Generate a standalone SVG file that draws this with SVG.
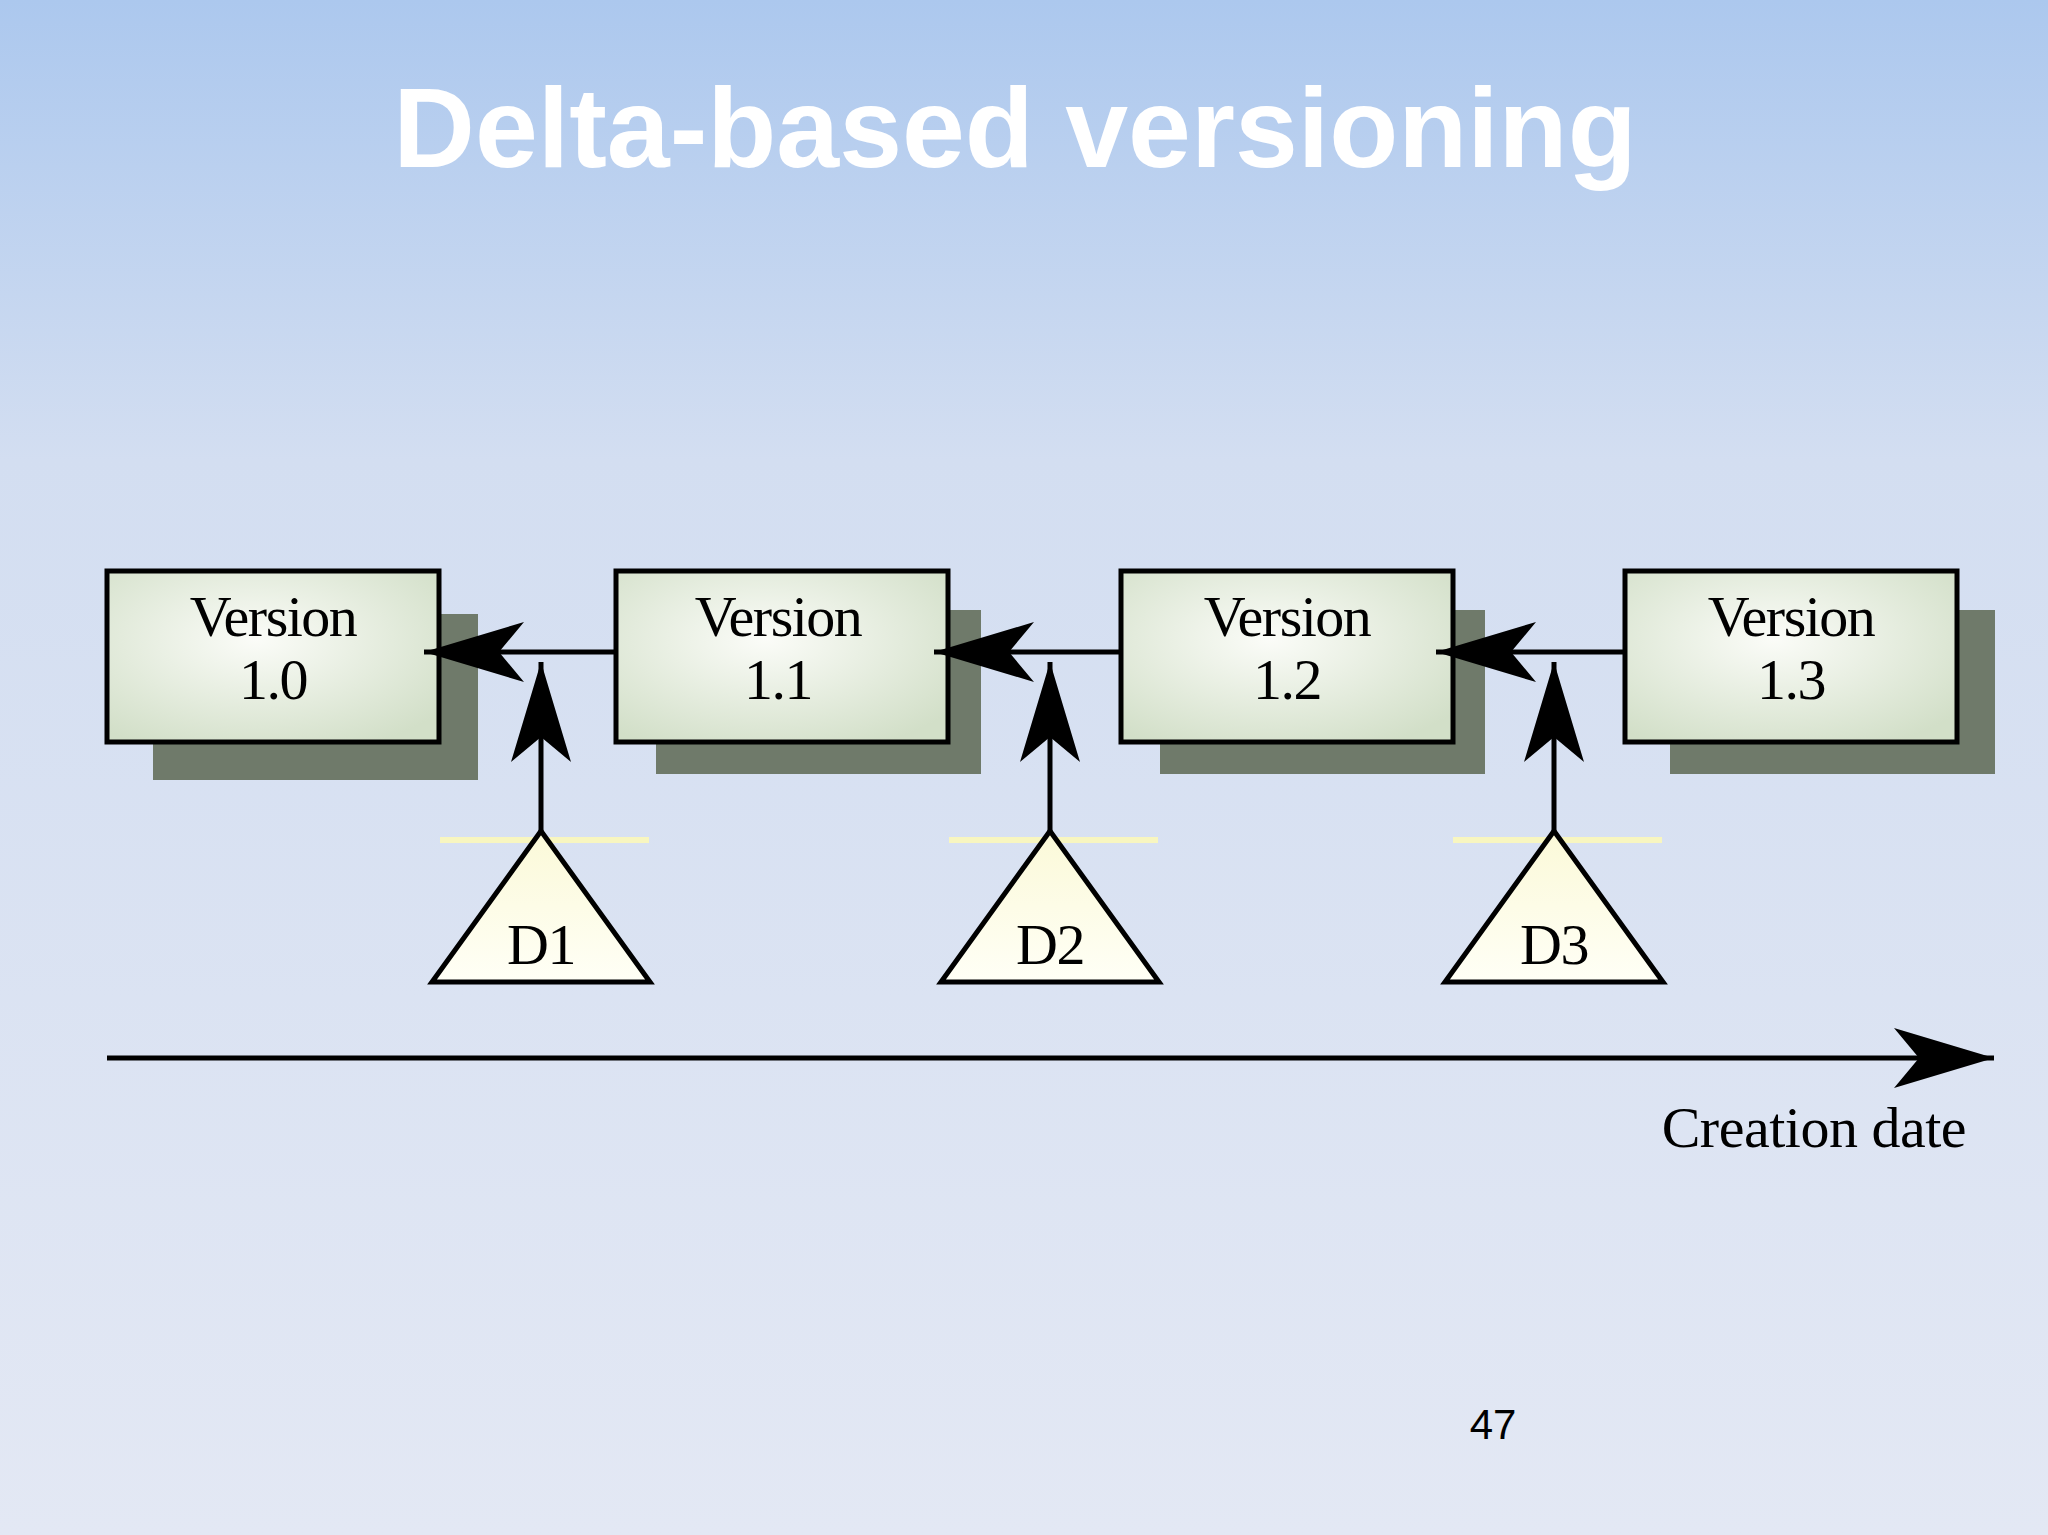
<svg xmlns="http://www.w3.org/2000/svg" width="2048" height="1535" viewBox="0 0 2048 1535">
<defs>
<linearGradient id="bg" x1="0" y1="0" x2="0" y2="1">
<stop offset="0" stop-color="#acc8ee"/><stop offset="0.3" stop-color="#d3def1"/><stop offset="1" stop-color="#e3e8f4"/>
</linearGradient>
<radialGradient id="bx" cx="0.45" cy="0.4" r="0.7">
<stop offset="0" stop-color="#fbfcf8"/><stop offset="1" stop-color="#d2dfc8"/>
</radialGradient>
<linearGradient id="tr" x1="0" y1="0" x2="0" y2="1">
<stop offset="0" stop-color="#fbf9d8"/><stop offset="1" stop-color="#fffff6"/>
</linearGradient>
<marker id="ah" viewBox="0 0 100 60" refX="100" refY="30" markerWidth="100" markerHeight="60" markerUnits="userSpaceOnUse" orient="auto">
<path d="M0,0 L100,30 L0,60 L25,30 Z" fill="#000"/>
</marker>
<style>
.sh{fill:#6f7a6a}
.bx{fill:url(#bx);stroke:#000;stroke-width:5}
.t{font-family:"Liberation Serif",serif;font-size:58px;text-anchor:middle;fill:#000;letter-spacing:-1.5px}
.ln{stroke:#000;stroke-width:5;fill:none;marker-end:url(#ah)}
.tri{fill:url(#tr);stroke:#000;stroke-width:5}
.yl{stroke:#f8f6c0;stroke-width:6}
</style>
</defs>
<rect width="2048" height="1535" fill="url(#bg)"/>
<text x="1015" y="167" font-family="Liberation Sans,Arial,sans-serif" font-weight="bold" font-size="113" fill="#fff" text-anchor="middle">Delta-based versioning</text>
<g id="v10"><rect class="sh" x="153" y="614" width="325" height="166"/><rect class="bx" x="107" y="571" width="332" height="171"/><text class="t" x="273" y="636">Version</text><text class="t" x="273" y="699">1.0</text></g>
<g id="v11"><rect class="sh" x="656" y="610" width="325" height="164"/><rect class="bx" x="616" y="571" width="332" height="171"/><text class="t" x="778" y="636">Version</text><text class="t" x="778" y="699">1.1</text></g>
<g id="v12"><rect class="sh" x="1160" y="610" width="325" height="164"/><rect class="bx" x="1121" y="571" width="332" height="171"/><text class="t" x="1287" y="636">Version</text><text class="t" x="1287" y="699">1.2</text></g>
<g id="v13"><rect class="sh" x="1670" y="610" width="325" height="164"/><rect class="bx" x="1625" y="571" width="332" height="171"/><text class="t" x="1791" y="636">Version</text><text class="t" x="1791" y="699">1.3</text></g>
<g id="d1"><line class="yl" x1="440" y1="840" x2="649" y2="840"/><polygon class="tri" points="541,831 432,982 650,982"/><text class="t" x="541" y="964">D1</text></g>
<g id="d2"><line class="yl" x1="949" y1="840" x2="1158" y2="840"/><polygon class="tri" points="1050,831 941,982 1159,982"/><text class="t" x="1050" y="964">D2</text></g>
<g id="d3"><line class="yl" x1="1453" y1="840" x2="1662" y2="840"/><polygon class="tri" points="1554,831 1445,982 1663,982"/><text class="t" x="1554" y="964">D3</text></g>
<g id="connectors">
<line class="ln" x1="616" y1="652" x2="424" y2="652"/>
<line class="ln" x1="1121" y1="652" x2="934" y2="652"/>
<line class="ln" x1="1625" y1="652" x2="1436" y2="652"/>
<line class="ln" x1="541" y1="831" x2="541" y2="662"/>
<line class="ln" x1="1050" y1="831" x2="1050" y2="662"/>
<line class="ln" x1="1554" y1="831" x2="1554" y2="662"/>
<line class="ln" x1="107" y1="1058" x2="1994" y2="1058"/>
</g>
<text class="t" x="1966" y="1147" style="text-anchor:end;letter-spacing:-0.5px">Creation date</text>
<text x="1493" y="1439" font-family="Liberation Sans,Arial,sans-serif" font-size="42" text-anchor="middle" fill="#000">47</text>
</svg>
